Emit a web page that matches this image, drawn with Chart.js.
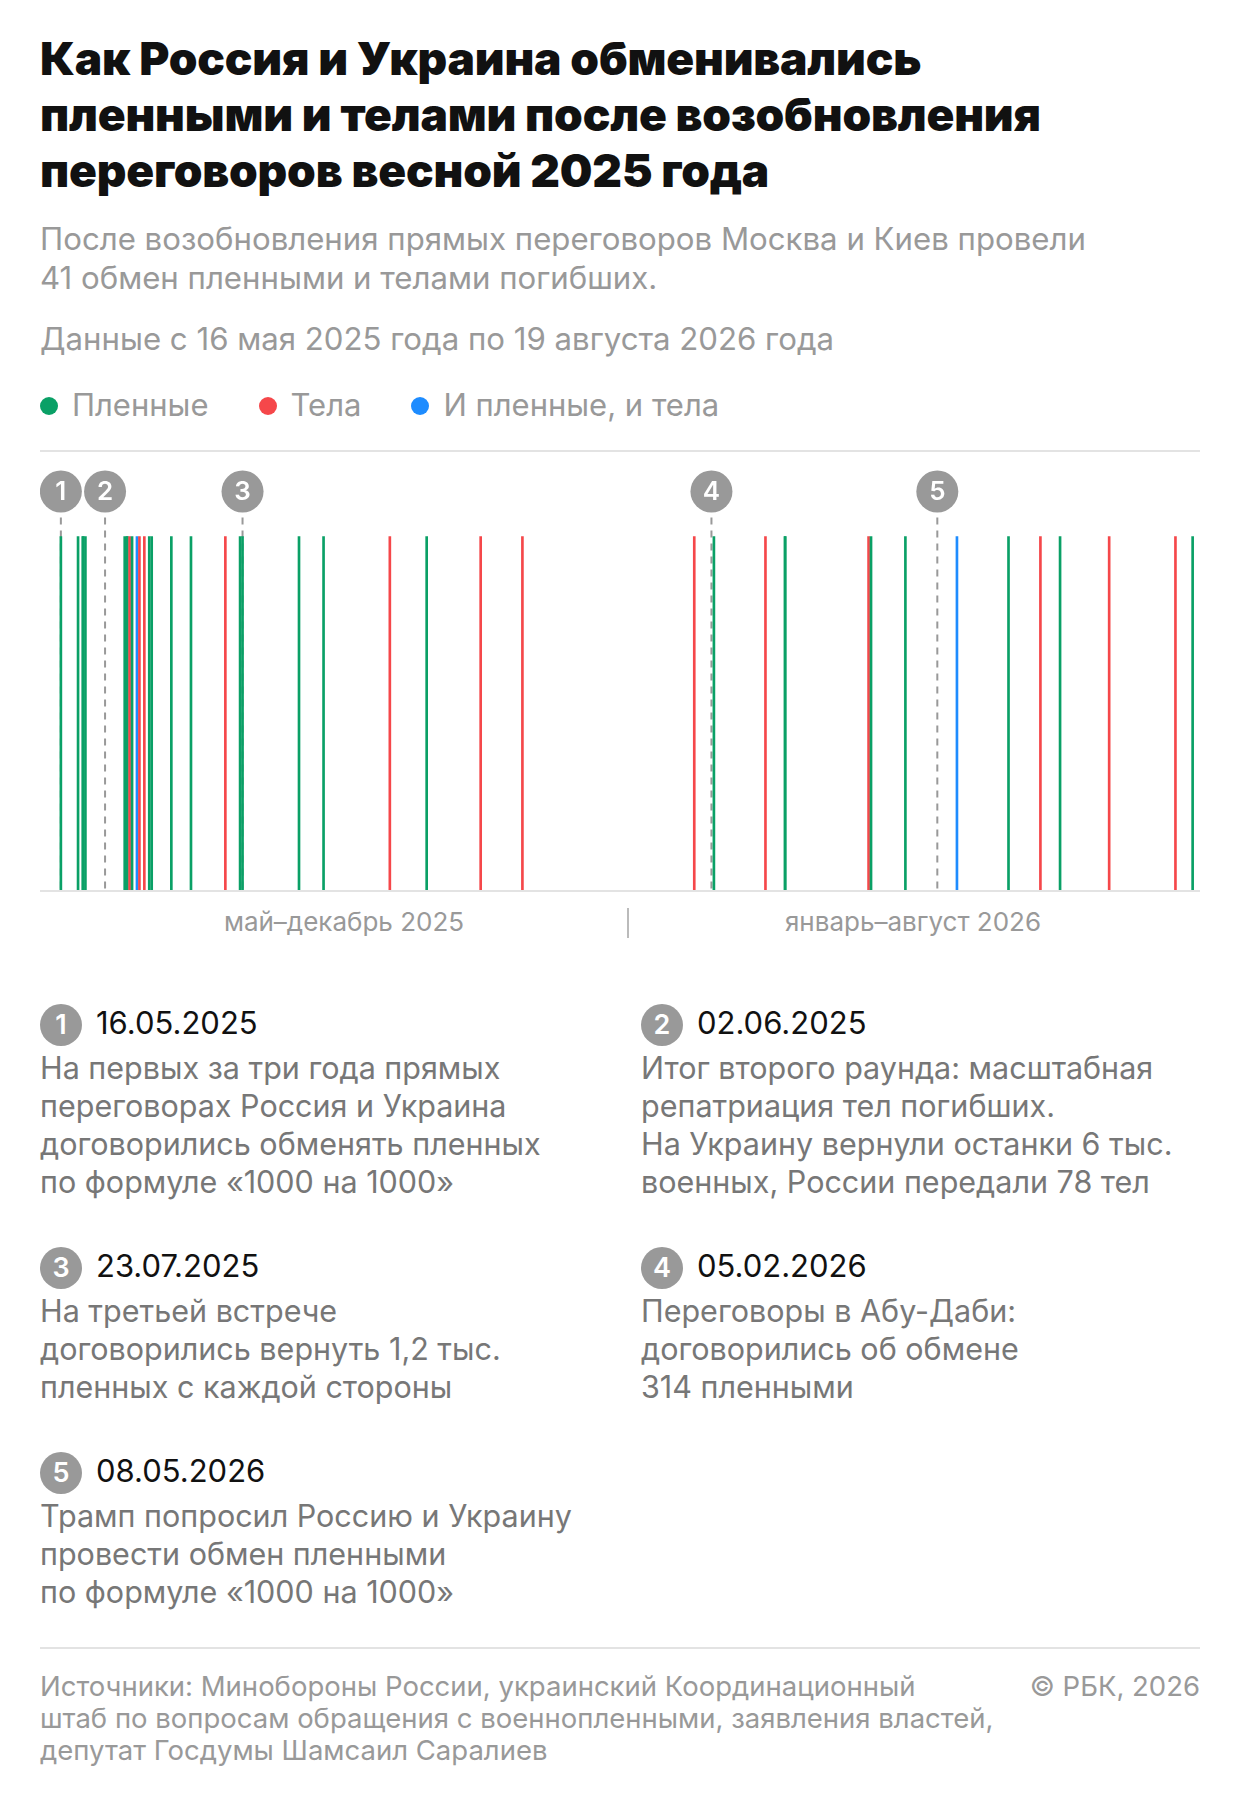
<!DOCTYPE html>
<html lang="ru">
<head>
<meta charset="UTF-8" />
<title>Обмены пленными</title>
<script src="https://cdn.jsdelivr.net/npm/chart.js@4.4.1/dist/chart.umd.min.js"></script>
<style>
  body { margin: 0; width: 1240px; height: 1798px; background: #fff; font-family: Inter, 'Noto Sans', sans-serif; position: relative; overflow: hidden; }
  .abs { position: absolute; white-space: nowrap; }
  h1 { position: absolute; left: 40px; top: 30px; margin: 0; font-size: 46px; line-height: 56px; font-weight: 900; color: #111; letter-spacing: -0.2px; }
  .sub { left: 40px; font-size: 31.2px; line-height: 39px; color: #999; }
  .legend { left: 40px; top: 386px; font-size: 31px; color: #999; display: flex; gap: 50px; }
  .legend span i { display: inline-block; width: 18px; height: 18px; border-radius: 50%; margin-right: 14px; vertical-align: 1px; }
  .rule { position: absolute; left: 40px; width: 1160px; height: 2px; background: #e3e3e3; }
  .axl { top: 906px; font-size: 26px; color: #999; transform: translateX(-50%); }
  .note { position: absolute; width: 600px; }
  .note .hd { font-size: 31px; color: #111; height: 42px; line-height: 42px; }
  .note .hd b { display: inline-block; width: 42px; height: 42px; border-radius: 50%; background: #999; color: #fff; font-weight: 600; text-align: center; margin-right: 14px; font-size: 27px; }
  .note .tx { font-size: 30.5px; line-height: 38px; color: #777; margin-top: 5px; }
  .foot { top: 1670px; font-size: 27.5px; line-height: 32px; color: #999; }
</style>
</head>
<body>
<h1>Как Россия и Украина обменивались<br>пленными и телами после возобновления<br>переговоров весной 2025 года</h1>
<div class="abs sub" style="top:220px">После возобновления прямых переговоров Москва и Киев провели<br>41 обмен пленными и телами погибших.</div>
<div class="abs sub" style="top:320px">Данные с 16 мая 2025 года по 19 августа 2026 года</div>
<div class="abs legend">
  <span><i style="background:#0aa066"></i>Пленные</span>
  <span><i style="background:#f5474a"></i>Тела</span>
  <span><i style="background:#1e8cff"></i>И пленные, и тела</span>
</div>
<div class="rule" style="top:450px"></div>

<div style="position:absolute;left:40px;top:462px;width:1160px;height:430px"><canvas id="c"></canvas></div>
<div class="abs axl" style="left:344px">май–декабрь 2025</div>
<div class="abs axl" style="left:913px">январь–август 2026</div>
<div style="position:absolute;left:627px;top:908px;width:2px;height:30px;background:#bbb"></div>

<div class="note" style="left:40px;top:1002px"><div class="hd"><b>1</b>16.05.2025</div><div class="tx">На первых за три года прямых<br>переговорах Россия и Украина<br>договорились обменять пленных<br>по формуле «1000 на 1000»</div></div>
<div class="note" style="left:641px;top:1002px"><div class="hd"><b>2</b>02.06.2025</div><div class="tx">Итог второго раунда: масштабная<br>репатриация тел погибших.<br>На Украину вернули останки 6 тыс.<br>военных, России передали 78 тел</div></div>
<div class="note" style="left:40px;top:1245px"><div class="hd"><b>3</b>23.07.2025</div><div class="tx">На третьей встрече<br>договорились вернуть 1,2 тыс.<br>пленных с каждой стороны</div></div>
<div class="note" style="left:641px;top:1245px"><div class="hd"><b>4</b>05.02.2026</div><div class="tx">Переговоры в Абу-Даби:<br>договорились об обмене<br>314 пленными</div></div>
<div class="note" style="left:40px;top:1450px"><div class="hd"><b>5</b>08.05.2026</div><div class="tx">Трамп попросил Россию и Украину<br>провести обмен пленными<br>по формуле «1000 на 1000»</div></div>

<div class="rule" style="top:1647px"></div>
<div class="abs foot" style="left:40px">Источники: Минобороны России, украинский Координационный<br>штаб по вопросам обращения с военнопленными, заявления властей,<br>депутат Госдумы Шамсаил Саралиев</div>
<div class="abs foot" style="right:40px">© РБК, 2026</div>

<script>
// days since 16.05.2025 for each exchange, and its type
const exchangeDays = [0, 7, 9, 9, 10, 26, 27, 27, 28, 29, 31, 32, 34, 36, 37, 45, 53, 67, 73, 74,
  97, 107, 134, 149, 171, 188, 258, 266, 287, 295, 295, 329, 330, 344, 365, 386, 399, 407, 427, 454, 461];
const exchangeTypes = ['P','P','P','P','P','P','P','P','B','P','X','B','B','P','P','P','P','B','P','P',
  'P','P','B','P','B','B','B','P','B','P','P','B','P','P','X','P','B','P','B','B','P'];
// negotiation milestones, position on the chart (days since 16.05.2025)
const milestoneDays = [0, 18, 74, 265, 357];
const milestoneLabels = ['1', '2', '3', '4', '5'];

const typeColors = { P: '#0aa066', B: '#f5474a', X: '#1e8cff' };
const MARK_Y = 1.127;

const milestonePlugin = {
  id: 'milestones',
  beforeDatasetsDraw(chart) {
    const { ctx, scales: { x, y } } = chart;
    ctx.save();
    ctx.strokeStyle = '#999';
    ctx.lineWidth = 2;
    ctx.setLineDash([7, 6]);
    milestoneDays.forEach(d => {
      const px = x.getPixelForValue(d);
      ctx.beginPath();
      ctx.moveTo(px, y.getPixelForValue(MARK_Y));
      ctx.lineTo(px, y.getPixelForValue(0));
      ctx.stroke();
    });
    ctx.restore();
  },
  afterDatasetsDraw(chart) {
    const { ctx, chartArea, scales: { x, y } } = chart;
    ctx.save();
    ctx.strokeStyle = '#e3e3e3';
    ctx.lineWidth = 2;
    ctx.beginPath();
    ctx.moveTo(chartArea.left, y.getPixelForValue(0) - 1);
    ctx.lineTo(chartArea.right, y.getPixelForValue(0) - 1);
    ctx.stroke();
    ctx.fillStyle = '#fff';
    ctx.font = '600 26px Inter, sans-serif';
    ctx.textAlign = 'center';
    ctx.textBaseline = 'middle';
    milestoneDays.forEach((d, i) => {
      ctx.fillText(milestoneLabels[i], x.getPixelForValue(d), y.getPixelForValue(MARK_Y) + 1);
    });
    ctx.restore();
  }
};

new Chart(document.getElementById('c'), {
  type: 'bar',
  data: {
    datasets: [{
      type: 'bar',
      data: exchangeDays.map(d => ({ x: d, y: [0, 1] })),
      backgroundColor: exchangeTypes.map(t => typeColors[t]),
      barThickness: 2,
      grouped: false
    }, {
      type: 'scatter',
      data: milestoneDays.map(d => ({ x: d, y: MARK_Y })),
      pointRadius: 21,
      pointBackgroundColor: '#999',
      pointBorderWidth: 0
    }]
  },
  options: {
    responsive: true,
    maintainAspectRatio: false,
    animation: false,
    layout: { padding: 0, autoPadding: false },
    scales: {
      x: { type: 'linear', min: -8.5, max: 464, offset: false, display: false, grace: 0 },
      y: { min: 0, max: 1.21, display: false, grace: 0 }
    },
    plugins: { legend: { display: false }, tooltip: { enabled: false } }
  },
  plugins: [milestonePlugin]
});
</script>
</body>
</html>
